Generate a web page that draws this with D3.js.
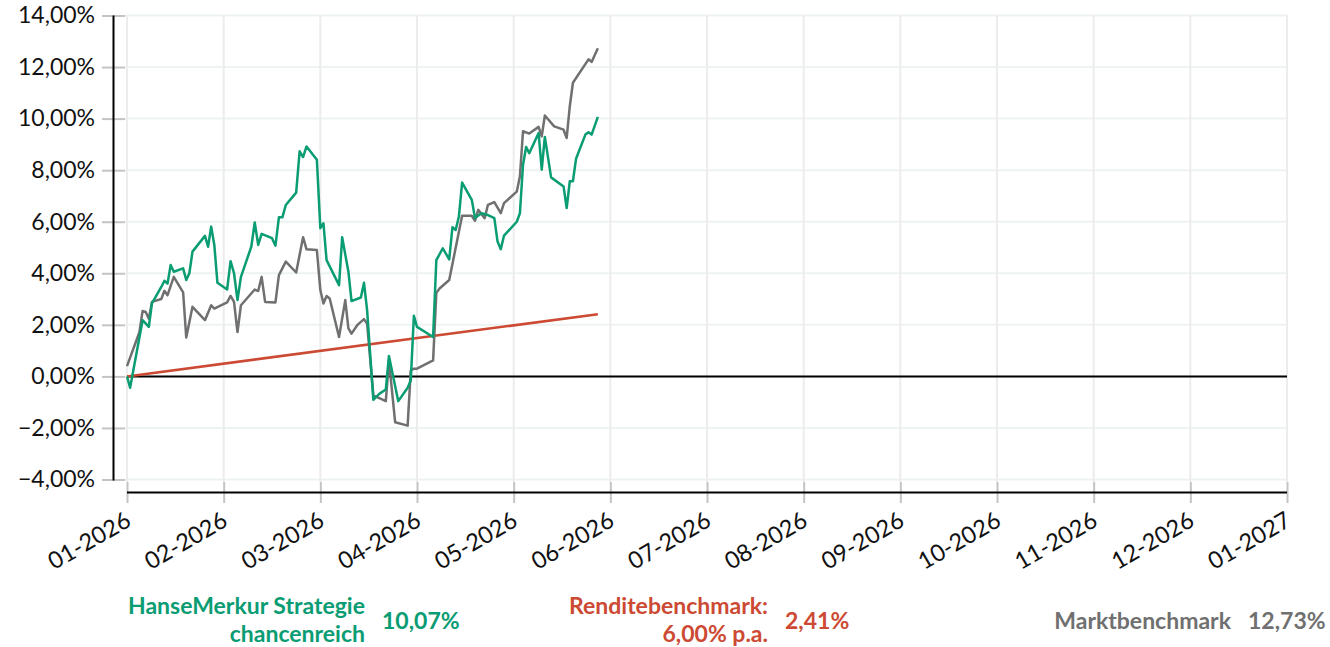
<!DOCTYPE html>
<html>
<head>
<meta charset="utf-8">
<script src="https://cdn.jsdelivr.net/npm/d3@7"></script>
<style>
  body { margin: 0; background: #fff; }
  svg { display: block; font-family: Lato, "Open Sans", sans-serif; }
</style>
</head>
<body>
<script>
// Fund performance since 01-2026 (in %)
const fundData = [
  ["2026-01-01", 0.00], ["2026-01-02", -0.44], ["2026-01-06", 2.18], ["2026-01-08", 1.92],
  ["2026-01-09", 2.83], ["2026-01-12", 3.47], ["2026-01-13", 3.71], ["2026-01-14", 3.60],
  ["2026-01-15", 4.32], ["2026-01-16", 4.06], ["2026-01-19", 4.19], ["2026-01-20", 3.74],
  ["2026-01-21", 4.00], ["2026-01-22", 4.84], ["2026-01-26", 5.45], ["2026-01-27", 5.03],
  ["2026-01-28", 5.81], ["2026-01-29", 5.10], ["2026-01-30", 3.63], ["2026-02-02", 3.37],
  ["2026-02-03", 4.47], ["2026-02-04", 4.00], ["2026-02-05", 2.96], ["2026-02-06", 3.86],
  ["2026-02-09", 5.03], ["2026-02-10", 5.97], ["2026-02-11", 5.10], ["2026-02-12", 5.53],
  ["2026-02-15", 5.36], ["2026-02-16", 5.07], ["2026-02-17", 6.17], ["2026-02-18", 6.17],
  ["2026-02-19", 6.65], ["2026-02-22", 7.13], ["2026-02-23", 8.73], ["2026-02-24", 8.51],
  ["2026-02-25", 8.92], ["2026-02-28", 8.40], ["2026-03-01", 5.75], ["2026-03-02", 5.94],
  ["2026-03-03", 4.51], ["2026-03-07", 3.54], ["2026-03-08", 5.40], ["2026-03-10", 4.06],
  ["2026-03-11", 2.92], ["2026-03-14", 3.06], ["2026-03-15", 3.63], ["2026-03-16", 2.57],
  ["2026-03-18", -0.91], ["2026-03-20", -0.67], ["2026-03-22", -0.51], ["2026-03-23", 0.79],
  ["2026-03-26", -0.96], ["2026-03-29", -0.44], ["2026-03-30", -0.16], ["2026-03-31", 2.35],
  ["2026-04-01", 1.92], ["2026-04-06", 1.53], ["2026-04-07", 4.51], ["2026-04-09", 4.97],
  ["2026-04-11", 4.54], ["2026-04-12", 5.79], ["2026-04-13", 5.68], ["2026-04-14", 6.20],
  ["2026-04-15", 7.52], ["2026-04-18", 6.85], ["2026-04-19", 6.14], ["2026-04-21", 6.33],
  ["2026-04-23", 6.26], ["2026-04-25", 6.14], ["2026-04-26", 5.23], ["2026-04-27", 4.93],
  ["2026-04-28", 5.46], ["2026-05-02", 6.00], ["2026-05-03", 6.33], ["2026-05-04", 8.21],
  ["2026-05-05", 8.90], ["2026-05-06", 8.66], ["2026-05-09", 9.44], ["2026-05-10", 8.02],
  ["2026-05-11", 9.29], ["2026-05-13", 7.72], ["2026-05-17", 7.37], ["2026-05-18", 6.53],
  ["2026-05-19", 7.57], ["2026-05-20", 7.57], ["2026-05-21", 8.44], ["2026-05-24", 9.38],
  ["2026-05-25", 9.47], ["2026-05-26", 9.38], ["2026-05-28", 10.07]
];

// Market benchmark
const marketData = [
  ["2026-01-01", 0.40], ["2026-01-05", 1.72], ["2026-01-06", 2.54], ["2026-01-07", 2.50],
  ["2026-01-08", 2.24], ["2026-01-09", 2.89], ["2026-01-12", 3.00], ["2026-01-13", 3.32],
  ["2026-01-14", 3.15], ["2026-01-16", 3.86], ["2026-01-19", 3.26], ["2026-01-20", 1.51],
  ["2026-01-22", 2.70], ["2026-01-26", 2.18], ["2026-01-28", 2.76], ["2026-01-29", 2.63],
  ["2026-02-02", 2.87], ["2026-02-03", 3.12], ["2026-02-04", 2.89], ["2026-02-05", 1.72],
  ["2026-02-06", 2.76], ["2026-02-10", 3.37], ["2026-02-11", 3.31], ["2026-02-12", 3.86],
  ["2026-02-13", 2.89], ["2026-02-16", 2.87], ["2026-02-17", 3.93], ["2026-02-19", 4.45],
  ["2026-02-22", 4.03], ["2026-02-24", 5.40], ["2026-02-25", 4.93], ["2026-02-28", 4.90],
  ["2026-03-01", 3.35], ["2026-03-02", 2.83], ["2026-03-03", 3.12], ["2026-03-04", 3.02],
  ["2026-03-07", 1.53], ["2026-03-09", 2.96], ["2026-03-10", 1.86], ["2026-03-11", 1.66],
  ["2026-03-13", 2.01], ["2026-03-15", 2.22], ["2026-03-16", 2.05], ["2026-03-18", -0.74],
  ["2026-03-22", -0.96], ["2026-03-23", 0.62], ["2026-03-25", -1.78], ["2026-03-29", -1.91],
  ["2026-03-30", 0.23], ["2026-03-31", 0.30], ["2026-04-01", 0.30], ["2026-04-06", 0.62],
  ["2026-04-07", 3.24], ["2026-04-08", 3.41], ["2026-04-11", 3.74], ["2026-04-15", 6.23],
  ["2026-04-18", 6.23], ["2026-04-19", 6.04], ["2026-04-20", 6.46], ["2026-04-22", 6.14],
  ["2026-04-23", 6.65], ["2026-04-25", 6.76], ["2026-04-27", 6.33], ["2026-04-28", 6.72],
  ["2026-05-02", 7.17], ["2026-05-03", 7.75], ["2026-05-04", 9.51], ["2026-05-06", 9.42],
  ["2026-05-09", 9.68], ["2026-05-10", 9.31], ["2026-05-11", 10.12], ["2026-05-14", 9.70],
  ["2026-05-17", 9.57], ["2026-05-18", 9.25], ["2026-05-19", 10.48], ["2026-05-20", 11.39],
  ["2026-05-25", 12.30], ["2026-05-26", 12.20], ["2026-05-28", 12.73]
];

// Return benchmark (6,00% p.a., straight line)
const targetData = [["2026-01-01", 0.00], ["2026-05-28", 2.41]];

const monthLabels = ["01-2026", "02-2026", "03-2026", "04-2026", "05-2026", "06-2026", "07-2026",
  "08-2026", "09-2026", "10-2026", "11-2026", "12-2026", "01-2027"];
const yTicks = [-4, -2, 0, 2, 4, 6, 8, 10, 12, 14];

const legendItems = [
  { lines: ["HanseMerkur Strategie", "chancenreich"], value: "10,07%", color: "#0a9c72" },
  { lines: ["Renditebenchmark:", "6,00% p.a."], value: "2,41%", color: "#cc4a33" },
  { lines: ["Marktbenchmark"], value: "12,73%", color: "#707070" }
];

const width = 1330;
const height = 647;

// German number format
const de = d3.formatLocale({ decimal: ",", thousands: ".", grouping: [3], currency: ["", " €"] });
const pct = de.format(".2f");

// months are spaced evenly, so map each date to a fractional month index
function monthIndex(s) {
  const d = d3.timeParse("%Y-%m-%d")(s);
  const start = d3.timeMonth.floor(d);
  const days = d3.timeDay.count(start, d3.timeMonth.offset(start, 1));
  return (d.getFullYear() - 2026) * 12 + d.getMonth() + (d.getDate() - 1) / days;
}

const x = d3.scaleLinear().domain([0, 12]).range([127, 1287]);
const y = d3.scaleLinear().domain([-4, 14]).range([479.5, 15.5]);

const svg = d3.select("body").append("svg")
  .attr("width", width)
  .attr("height", height);

// horizontal grid
svg.append("g").selectAll("line")
  .data(yTicks)
  .enter().append("line")
  .attr("x1", 125).attr("x2", 1287)
  .attr("y1", d => y(d)).attr("y2", d => y(d))
  .style("stroke", "#edf3f0").style("stroke-width", 2);

// vertical grid
svg.append("g").selectAll("line")
  .data(d3.range(13))
  .enter().append("line")
  .attr("x1", d => x(d)).attr("x2", d => x(d))
  .attr("y1", 15).attr("y2", 482)
  .style("stroke", "#ececec").style("stroke-width", 2);

// y axis
const yAxis = svg.append("g")
  .attr("transform", "translate(125,0)")
  .call(d3.axisLeft(y).tickValues(yTicks).tickSize(23).tickPadding(7).tickFormat(d => pct(d) + "%"));
yAxis.select(".domain").remove();
yAxis.selectAll(".tick line").style("stroke", "#c4c4c4").style("stroke-width", 2);
yAxis.selectAll(".tick text")
  .style("font-size", "23px").style("fill", "#111").style("font-family", "Lato, sans-serif");

svg.append("line")
  .attr("x1", 113.5).attr("x2", 113.5)
  .attr("y1", y(14)).attr("y2", y(-4) + 1)
  .style("stroke", "#000").style("stroke-width", 2);

// x axis
const xAxis = svg.append("g")
  .attr("transform", "translate(0,482)")
  .call(d3.axisBottom(x).tickValues(d3.range(13)).tickSize(21).tickFormat(d => monthLabels[d]));
xAxis.select(".domain").remove();
xAxis.selectAll(".tick line").style("stroke", "#c4c4c4").style("stroke-width", 2);
xAxis.selectAll(".tick text")
  .attr("transform", "translate(5,43) rotate(-30)")
  .attr("y", 0).attr("dy", 0)
  .attr("text-anchor", "end")
  .style("font-size", "23.5px").style("fill", "#111").style("font-family", "Lato, sans-serif");

svg.append("line")
  .attr("x1", x(0)).attr("x2", x(12))
  .attr("y1", 492.5).attr("y2", 492.5)
  .style("stroke", "#000").style("stroke-width", 2);

// zero line
svg.append("line")
  .attr("x1", x(0)).attr("x2", x(12))
  .attr("y1", y(0)).attr("y2", y(0))
  .style("stroke", "#000").style("stroke-width", 2);

const line = d3.line()
  .x(d => x(monthIndex(d[0])))
  .y(d => y(d[1]));

svg.append("path").datum(targetData).attr("d", line)
  .style("fill", "none").style("stroke", "#cc4a33").style("stroke-width", 2.5);
svg.append("path").datum(marketData).attr("d", line)
  .style("fill", "none").style("stroke", "#707070").style("stroke-width", 2.5)
  .style("stroke-linejoin", "round");
svg.append("path").datum(fundData).attr("d", line)
  .style("fill", "none").style("stroke", "#0a9c72").style("stroke-width", 2.5)
  .style("stroke-linejoin", "round");

// legend below the chart
const legendX = [365, 768, 1231];
const legend = svg.append("g")
  .style("font-family", "Lato, sans-serif")
  .style("font-weight", "bold")
  .style("font-size", "23px");

legendItems.forEach((item, i) => {
  const g = legend.append("g").style("fill", item.color);
  if (item.lines.length === 2) {
    g.append("text").attr("x", legendX[i]).attr("y", 614).attr("text-anchor", "end").text(item.lines[0]);
    g.append("text").attr("x", legendX[i]).attr("y", 642).attr("text-anchor", "end").text(item.lines[1]);
  } else {
    g.append("text").attr("x", legendX[i]).attr("y", 629).attr("text-anchor", "end").text(item.lines[0]);
  }
  g.append("text").attr("x", legendX[i] + 17).attr("y", 629).text(item.value);
});
</script>
</body>
</html>
